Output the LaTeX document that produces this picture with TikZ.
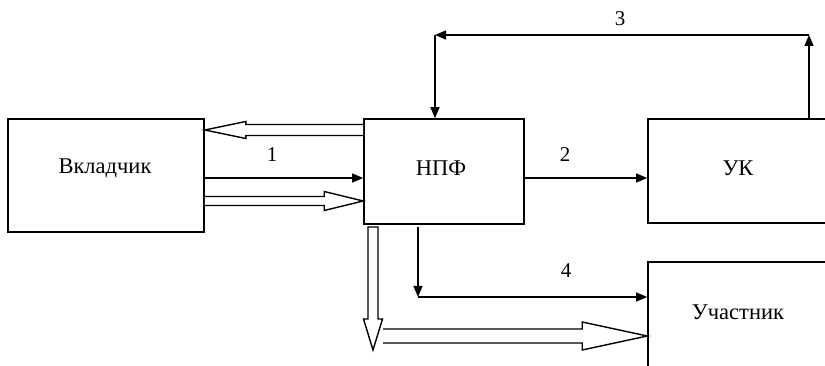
\documentclass[tikz,border=0pt]{standalone}
\usepackage{fontspec}
\setmainfont{Liberation Serif}
\usetikzlibrary{arrows.meta,calc}
\begin{document}
\begin{tikzpicture}[x=1pt,y=-1pt,
  box/.style={draw,line width=1.6pt,rectangle,inner sep=0pt},
  lbl/.style={font=\fontsize{22.5}{26}\selectfont,inner sep=0pt},
  num/.style={font=\fontsize{21}{25}\selectfont,inner sep=0pt},
  conn/.style={line width=1.4pt,-{Triangle[length=11pt,width=9pt]}},
  hollow/.style={draw,line width=1.4pt,fill=white,line join=miter}]
\useasboundingbox (0,0) rectangle (825,366);
\clip (0,0) rectangle (825,366);
% boxes
\node[box,minimum width=196pt,minimum height=113pt] (vk) at (106,175.5) {};
\node[box,minimum width=160pt,minimum height=105pt] (npf) at (444,171.5) {};
\node[box,minimum width=220pt,minimum height=104pt] (uk) at (758,171) {};
\node[box,minimum width=220pt,minimum height=130pt] (uch) at (758,327) {};
% texts
\node[lbl] (tvk) at (105,168) {Вкладчик};
\node[lbl] (tnpf) at (441,168) {НПФ};
\node[lbl] (tuk) at (738,168) {УК};
\node[lbl] (tuch) at (738,312) {Участник};
% numbers
\node[num] (n1) at (272,155) {1};
\node[num] (n2) at (565,155) {2};
\node[num] (n3) at (620,19) {3};
\node[num] (n4) at (566,271) {4};
% solid connectors
\draw[conn] (vk.east |- 0,178) -- (npf.west |- 0,178);
\draw[conn] (npf.east |- 0,178) -- (uk.west |- 0,178);
\coordinate (c3r) at (809,35);
\coordinate (c3l) at (435,35);
\draw[conn] (uk.north -| c3r) -- (c3r);
\draw[conn] (c3r) -- (c3l);
\draw[conn] (c3l) -- (npf.north -| c3l);
\coordinate (c4s) at (418,227);
\coordinate (c4c) at (418,297);
\draw[conn] (c4s) -- (c4c);
\draw[conn] (c4c) -- (uch.west |- c4c);
% hollow arrows
% НПФ -> Вкладчик (left)
\coordinate (h1s) at (npf.west |- 0,130);
\coordinate (h1e) at (vk.east |- 0,130);
\draw[hollow] ($(h1s)+(0,-5.5)$) -- ($(h1e)+(41,-5.5)$) -- ($(h1e)+(41,-8.5)$) -- (h1e)
  -- ($(h1e)+(41,8.5)$) -- ($(h1e)+(41,5.5)$) -- ($(h1s)+(0,5.5)$);
% Вкладчик -> НПФ (right)
\coordinate (h2s) at (vk.east |- 0,201);
\coordinate (h2e) at (npf.west |- 0,201);
\draw[hollow] ($(h2s)+(0,-4.5)$) -- ($(h2e)+(-39,-4.5)$) -- ($(h2e)+(-39,-9.5)$) -- (h2e)
  -- ($(h2e)+(-39,9.5)$) -- ($(h2e)+(-39,4.5)$) -- ($(h2s)+(0,4.5)$);
% НПФ down
\coordinate (h3s) at (373,227);
\coordinate (h3e) at (373,350);
\draw[hollow] ($(h3s)+(-5,0)$) -- ($(h3e)+(-5,-31)$) -- ($(h3e)+(-9.5,-31)$) -- (h3e)
  -- ($(h3e)+(9.5,-31)$) -- ($(h3e)+(5,-31)$) -- ($(h3s)+(5,0)$) -- cycle;
% bottom right to Участник
\coordinate (h4s) at (383,336);
\coordinate (h4e) at (uch.west |- 0,336);
\draw[hollow] ($(h4s)+(0,-7)$) -- ($(h4e)+(-65,-7)$) -- ($(h4e)+(-65,-14)$) -- (h4e)
  -- ($(h4e)+(-65,14)$) -- ($(h4e)+(-65,7)$) -- ($(h4s)+(0,7)$);
\end{tikzpicture}
\end{document}
